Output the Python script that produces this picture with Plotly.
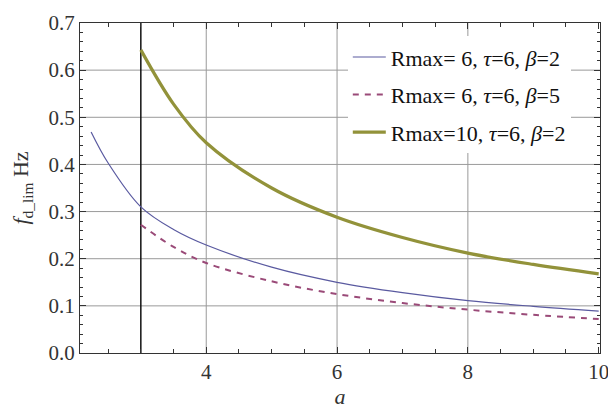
import plotly.graph_objects as go

# curve samples
a_blue = [2.24, 2.5, 3, 3.5, 4, 5, 6, 7, 8, 9, 10]
f_blue = [0.469, 0.403, 0.310, 0.262, 0.229, 0.182, 0.150, 0.128, 0.111, 0.099, 0.089]

a_dash = [3, 3.5, 4, 5, 6, 7, 8, 9, 10]
f_dash = [0.272, 0.225, 0.191, 0.152, 0.125, 0.106, 0.092, 0.081, 0.072]

a_gold = [3, 3.5, 4, 5, 6, 7, 8, 9, 10]
f_gold = [0.643, 0.528, 0.446, 0.350, 0.288, 0.245, 0.212, 0.188, 0.168]

names = [
    "Rmax= 6, <i>τ</i>=6, <i>β</i>=2",
    "Rmax= 6, <i>τ</i>=6, <i>β</i>=5",
    "Rmax=10, <i>τ</i>=6, <i>β</i>=2",
]

grid_y = [0.1, 0.2, 0.3, 0.4, 0.5, 0.6]
grid_x = [4, 6, 8]
marker_x = 3

serif = "Liberation Serif"

fig = go.Figure()

fig.add_trace(go.Scatter(
    x=a_blue, y=f_blue, mode="lines", name=names[0], legendgroup="g1",
    line=dict(color="#5a5aa0", width=1.2, shape="spline")
))
fig.add_trace(go.Scatter(
    x=a_dash, y=f_dash, mode="lines", name=names[1], legendgroup="g2",
    line=dict(color="#9a4a78", width=2, dash="6px,6px", shape="spline")
))
fig.add_trace(go.Scatter(
    x=a_gold, y=f_gold, mode="lines", name=names[2], legendgroup="g3",
    line=dict(color="#92923a", width=3.2, shape="spline")
))

# grid lines
for gy in grid_y:
    fig.add_hline(y=gy, line=dict(color="#9a9a9a", width=1), layer="below")
for gx in grid_x:
    fig.add_vline(x=gx, line=dict(color="#9a9a9a", width=1), layer="below")
fig.add_vline(x=marker_x, line=dict(color="#111111", width=1.5), layer="below")

tick_font = dict(family=serif, size=21, color="#333333")

# page body has an 8px margin, so the figure is shrunk and margins offset
fig.update_layout(
    width=608,
    height=407,
    margin=dict(l=72, r=16, t=15, b=62),
    plot_bgcolor="white",
    paper_bgcolor="white",
    font=dict(family=serif, size=21, color="#333333"),
    showlegend=True,
    legend=dict(
        x=0.515, y=0.96, xanchor="left", yanchor="top",
        bgcolor="white", borderwidth=0,
        font=dict(family=serif, size=22, color="#111111"),
        tracegroupgap=6, itemwidth=33,
    ),
    xaxis=dict(
        range=[2.07, 10.02],
        tick0=0, dtick=2, tickfont=tick_font, automargin=False,
        ticks="inside", ticklen=6, tickcolor="#333",
        showgrid=False, zeroline=False,
        showline=True, linecolor="#333", linewidth=1.2, mirror="allticks",
        minor=dict(dtick=0.5, ticks="inside", ticklen=4, tickcolor="#333"),
        title=dict(text="<i>a</i>", font=dict(family=serif, size=22), standoff=4),
    ),
    yaxis=dict(
        range=[0, 0.7],
        tick0=0, dtick=0.1, tickformat=".1f", tickfont=tick_font, automargin=False,
        ticks="inside", ticklen=6, tickcolor="#333",
        showgrid=False, zeroline=False,
        showline=True, linecolor="#333", linewidth=1.2, mirror="allticks",
        minor=dict(dtick=0.02, ticks="inside", ticklen=3, tickcolor="#333"),
        title=dict(text="<i>f</i><sub>d_lim</sub> Hz", font=dict(family=serif, size=22), standoff=16),
    ),
)

fig.write_html("out.html")
